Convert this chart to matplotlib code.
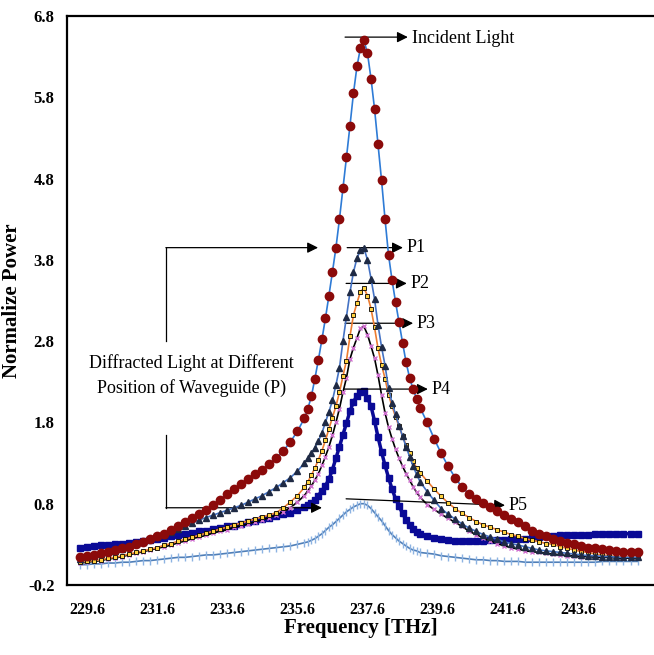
import matplotlib
matplotlib.use("Agg")
import matplotlib.pyplot as plt

plt.rcParams['font.family'] = ['Liberation Serif', 'DejaVu Serif']

# frequency grid (THz): coarse tails, finer around the peak
freq = [229.4, 229.6, 229.8, 230.0, 230.2, 230.4, 230.6, 230.8, 231.0, 231.2,
        231.4, 231.6, 231.8, 232.0, 232.2, 232.4, 232.6, 232.8, 233.0, 233.2,
        233.4, 233.6, 233.8, 234.0, 234.2, 234.4, 234.6, 234.8, 235.0, 235.2,
        235.4, 235.6, 235.8,
        235.9, 236.0, 236.1, 236.2, 236.3, 236.4, 236.5, 236.6, 236.7, 236.8,
        236.9, 237.0, 237.1, 237.2, 237.3, 237.4, 237.5, 237.6, 237.7, 237.8,
        237.9, 238.0, 238.1, 238.2, 238.3, 238.4, 238.5, 238.6, 238.7, 238.8,
        238.9, 239.0, 239.1,
        239.3, 239.5, 239.7, 239.9, 240.1, 240.3, 240.5, 240.7, 240.9, 241.1,
        241.3, 241.5, 241.7, 241.9, 242.1, 242.3, 242.5, 242.7, 242.9, 243.1,
        243.3, 243.5, 243.7, 243.9, 244.1, 244.3, 244.5, 244.7, 244.9, 245.1,
        245.3]

incident = [0.14, 0.16, 0.17, 0.19, 0.21, 0.23, 0.25, 0.27, 0.30, 0.33,
            0.36, 0.40, 0.43, 0.48, 0.53, 0.57, 0.62, 0.67, 0.72, 0.78,
            0.85, 0.92, 0.98, 1.04, 1.10, 1.16, 1.22, 1.29, 1.36, 1.45,
            1.56, 1.69, 1.85,
            1.97, 2.12, 2.34, 2.57, 2.82, 3.08, 3.36, 3.65, 3.95, 4.30,
            4.68, 5.06, 5.45, 5.85, 6.18, 6.41, 6.50, 6.34, 6.03, 5.66,
            5.22, 4.78, 4.30, 3.86, 3.55, 3.28, 3.03, 2.78, 2.54, 2.35,
            2.21, 2.09, 1.98,
            1.80, 1.60, 1.42, 1.26, 1.12, 1.00, 0.92, 0.86, 0.81, 0.76,
            0.71, 0.66, 0.61, 0.57, 0.52, 0.47, 0.43, 0.40, 0.37, 0.34,
            0.32, 0.30, 0.28, 0.26, 0.25, 0.24, 0.23, 0.22, 0.21, 0.21,
            0.21]

p1 = [0.12, 0.14, 0.16, 0.18, 0.20, 0.22, 0.24, 0.27, 0.30, 0.33,
      0.36, 0.39, 0.42, 0.45, 0.49, 0.52, 0.56, 0.60, 0.63, 0.66,
      0.69, 0.72, 0.75, 0.78, 0.82, 0.86, 0.90, 0.95, 1.00, 1.06,
      1.12, 1.20, 1.30,
      1.36, 1.42, 1.49, 1.57, 1.67, 1.80, 1.93, 2.07, 2.26, 2.47,
      2.80, 3.10, 3.40, 3.65, 3.82, 3.92, 3.94, 3.80, 3.57, 3.32,
      3.00, 2.73, 2.50, 2.22, 2.04, 1.90, 1.76, 1.63, 1.50, 1.38,
      1.26, 1.16, 1.07,
      0.95, 0.84, 0.74, 0.67, 0.61, 0.55, 0.50, 0.46, 0.42, 0.39,
      0.36, 0.33, 0.31, 0.29, 0.27, 0.25, 0.23, 0.22, 0.21, 0.20,
      0.19, 0.18, 0.17, 0.16, 0.16, 0.15, 0.15, 0.14, 0.14, 0.14,
      0.14]

p2 = [0.08, 0.09, 0.10, 0.11, 0.13, 0.14, 0.16, 0.18, 0.20, 0.22,
      0.24, 0.26, 0.29, 0.31, 0.34, 0.36, 0.39, 0.41, 0.44, 0.46,
      0.49, 0.51, 0.54, 0.56, 0.59, 0.61, 0.64, 0.66, 0.69, 0.75,
      0.82, 0.90, 1.00,
      1.07, 1.15, 1.24, 1.34, 1.45, 1.58, 1.72, 1.86, 2.00, 2.17,
      2.37, 2.56, 2.86, 3.12, 3.27, 3.41, 3.45, 3.36, 3.20, 2.97,
      2.71, 2.51, 2.34, 2.14, 2.00, 1.87, 1.75, 1.63, 1.52, 1.42,
      1.32, 1.24, 1.18,
      1.08, 0.98, 0.89, 0.81, 0.74, 0.68, 0.63, 0.58, 0.54, 0.51,
      0.48, 0.45, 0.42, 0.40, 0.37, 0.35, 0.33, 0.31, 0.30, 0.27,
      0.25, 0.23, 0.21, 0.20, 0.18, 0.17, 0.16, 0.15, 0.15, 0.14,
      0.14]

p3 = [0.07, 0.08, 0.09, 0.10, 0.12, 0.13, 0.15, 0.17, 0.19, 0.21,
      0.23, 0.25, 0.27, 0.29, 0.32, 0.34, 0.37, 0.39, 0.41, 0.44,
      0.46, 0.48, 0.51, 0.53, 0.55, 0.58, 0.60, 0.63, 0.66, 0.70,
      0.75, 0.82, 0.90,
      0.96, 1.02, 1.09, 1.17, 1.27, 1.38, 1.50, 1.64, 1.80, 1.97,
      2.17, 2.35, 2.58, 2.72, 2.84, 2.96, 2.98, 2.88, 2.74, 2.59,
      2.38, 2.14, 1.92, 1.74, 1.60, 1.47, 1.36, 1.26, 1.17, 1.09,
      1.01, 0.94, 0.88,
      0.79, 0.73, 0.67, 0.62, 0.57, 0.52, 0.46, 0.42, 0.38, 0.34,
      0.31, 0.28, 0.26, 0.24, 0.22, 0.21, 0.20, 0.19, 0.18, 0.17,
      0.16, 0.16, 0.15, 0.15, 0.14, 0.14, 0.14, 0.13, 0.13, 0.13,
      0.13]

p4 = [0.26, 0.27, 0.28, 0.29, 0.29, 0.30, 0.31, 0.32, 0.33, 0.34,
      0.35, 0.37, 0.38, 0.40, 0.41, 0.43, 0.44, 0.46, 0.47, 0.49,
      0.50, 0.52, 0.53, 0.55, 0.57, 0.59, 0.61, 0.63, 0.65, 0.67,
      0.69, 0.72, 0.76,
      0.78, 0.81, 0.85, 0.90, 0.96, 1.02, 1.10, 1.22, 1.36, 1.50,
      1.65, 1.79, 1.94, 2.05, 2.13, 2.18, 2.19, 2.10, 2.00, 1.82,
      1.62, 1.44, 1.27, 1.12, 0.98, 0.86, 0.77, 0.68, 0.60, 0.54,
      0.49, 0.45, 0.43,
      0.40, 0.38, 0.36, 0.35, 0.34, 0.34, 0.34, 0.34, 0.34, 0.35,
      0.35, 0.35, 0.36, 0.36, 0.37, 0.38, 0.39, 0.40, 0.40, 0.41,
      0.41, 0.41, 0.41, 0.42, 0.43, 0.43, 0.43, 0.43, 0.43, 0.43,
      0.43]

p5 = [0.05, 0.05, 0.06, 0.06, 0.07, 0.07, 0.08, 0.08, 0.09, 0.10,
      0.10, 0.11, 0.12, 0.13, 0.14, 0.14, 0.15, 0.16, 0.17, 0.17,
      0.18, 0.19, 0.20, 0.21, 0.22, 0.23, 0.24, 0.25, 0.26, 0.27,
      0.28, 0.30, 0.32,
      0.33, 0.35, 0.37, 0.40, 0.43, 0.47, 0.51, 0.54, 0.58, 0.62,
      0.66, 0.70, 0.73, 0.76, 0.78, 0.80, 0.80, 0.78, 0.74, 0.69,
      0.64, 0.59, 0.53, 0.47, 0.42, 0.38, 0.34, 0.31, 0.28, 0.25,
      0.23, 0.22, 0.20,
      0.19, 0.18, 0.16, 0.15, 0.14, 0.13, 0.12, 0.11, 0.11, 0.10,
      0.10, 0.09, 0.09, 0.09, 0.08, 0.08, 0.08, 0.08, 0.08, 0.08,
      0.08, 0.08, 0.08, 0.08, 0.08, 0.09, 0.09, 0.09, 0.09, 0.09,
      0.09]

xticks = [229.6, 231.6, 233.6, 235.6, 237.6, 239.6, 241.6, 243.6]
yticks = [-0.2, 0.8, 1.8, 2.8, 3.8, 4.8, 5.8, 6.8]

fig = plt.figure(figsize=(6.54, 6.55), dpi=100)
ax = fig.add_axes([0.1024, 0.1069, 0.8976, 0.8687])

ax.plot(freq, p5, color='#4f7fb8', lw=1.2, marker='|', ms=6, mew=1.0,
        mec='#8db3e2', zorder=2)
ax.plot(freq, p4, color='#0a0a96', lw=2.5, marker='s', ms=4.5,
        mfc='#0a0a96', mec='#0a0a96', zorder=3)
ax.plot(freq, p3, color='black', lw=1.2, marker='x', ms=3, mew=1.0,
        mec='#d070d0', zorder=4)
ax.plot(freq, p2, color='#ed7d31', lw=1.2, marker='s', ms=3.2,
        mfc='#ffd23f', mec='black', mew=0.6, zorder=5)
ax.plot(freq, p1, color='#4472c4', lw=1.2, marker='^', ms=3.8,
        mfc='#1f2a44', mec='#1f2a44', zorder=6)
ax.plot(freq, incident, color='#2e7bd6', lw=1.2, marker='o', ms=6,
        mfc='#8b0a0a', mec='#8b0a0a', zorder=7)

ax.set_xlim(229.03, 245.77)
ax.set_ylim(-0.2, 6.8)
ax.set_xticks(xticks)
ax.set_yticks(yticks)
ax.set_xticklabels(['%.1f' % t for t in xticks], fontweight='bold', fontsize=11.5)
ax.set_yticklabels(['%.1f' % t for t in yticks], fontweight='bold', fontsize=12)
ax.tick_params(length=0, pad=9)
ax.tick_params(axis='x', pad=12)
for s in ['left', 'top', 'bottom']:
    ax.spines[s].set_linewidth(1.6)
    ax.spines[s].set_color('black')
ax.spines['right'].set_visible(False)

ax.set_xlabel('Frequency [THz]', fontweight='bold', fontsize=15, labelpad=0)
ax.set_ylabel('Normalize Power', fontweight='bold', fontsize=15, labelpad=4)

arrow = dict(arrowstyle='-|>', color='black', lw=0.9, mutation_scale=16,
             shrinkA=0, shrinkB=0)

# incident light pointer
ax.annotate('', xy=(238.75, 6.54), xytext=(236.96, 6.54), arrowprops=arrow)
ax.text(238.87, 6.52, 'Incident Light', fontsize=13, va='center', ha='left')

# P1 .. P5 pointers
labels = ['P1', 'P2', 'P3', 'P4', 'P5']
starts = [(237.02, 3.95), (236.99, 3.51), (236.96, 3.02), (236.93, 2.21), (236.99, 0.86)]
tips = [(238.61, 3.95), (238.72, 3.51), (238.90, 3.02), (239.32, 2.21), (241.52, 0.78)]
for lab, st, tp in zip(labels, starts, tips):
    ax.annotate('', xy=tp, xytext=st, arrowprops=arrow)
    ax.text(tp[0] + 0.1, tp[1], lab, fontsize=13, va='center', ha='left')

# bracket for the diffracted light
ax.plot([231.85, 231.85], [3.95, 2.80], color='black', lw=0.9)
ax.plot([231.85, 231.85], [1.64, 0.75], color='black', lw=0.9)
ax.annotate('', xy=(236.19, 3.95), xytext=(231.85, 3.95), arrowprops=arrow)
ax.annotate('', xy=(236.30, 0.75), xytext=(231.85, 0.75), arrowprops=arrow)
ax.text(232.57, 2.38, 'Diffracted Light at Different\nPosition of Waveguide (P)',
        fontsize=13, ha='center', va='center', linespacing=1.5)

fig.savefig('out.png', dpi=100)
